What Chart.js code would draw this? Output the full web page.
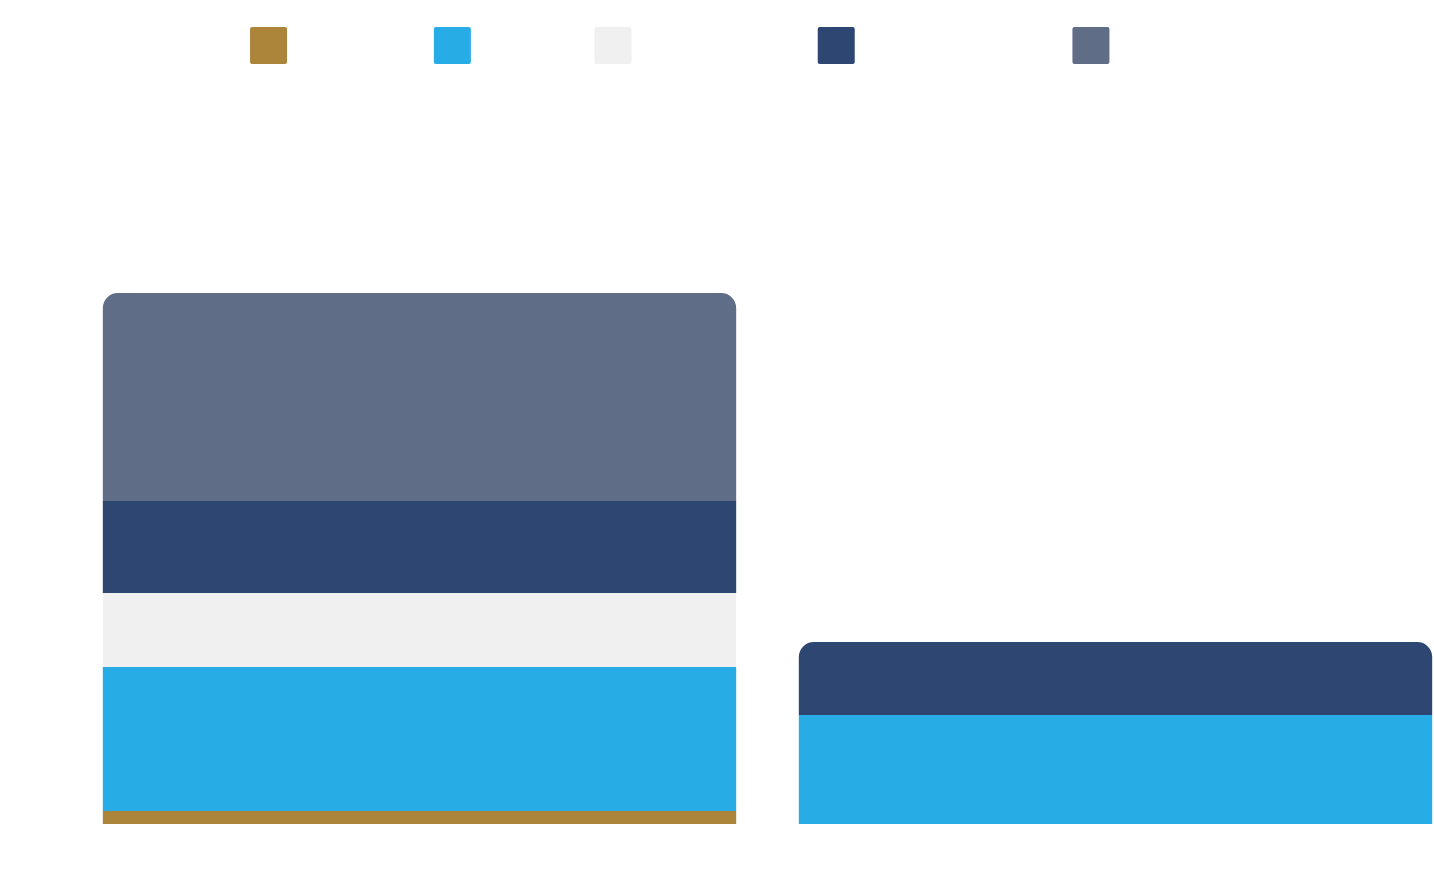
<!DOCTYPE html>
<html lang="en">
<head>
  <meta charset="UTF-8" />
  <title>Revenue mix</title>
  <script src="https://cdn.jsdelivr.net/npm/chart.js"></script>
  <style>
    body {
      margin: 0;
      background: #ffffff;
      overflow: hidden;
    }
    #chart-container {
      width: 1535px;
      height: 873px;
    }
  </style>
</head>
<body>
  <div id="chart-container">
    <canvas id="mixChart"></canvas>
  </div>

  <script>
    const categories = ['2022', '2023'];
    const privateGifts = [0.13, 0];
    const publicFunding = [1.44, 1.09];
    const inKind = [0.74, 0];
    const endowment = [0.92, 0.73];
    const otherRevenue = [2.08, 0];

    const ctx = document.getElementById('mixChart').getContext('2d');
    const chart = new Chart(ctx, {
      type: 'bar',
      data: {
        labels: categories,
        datasets: [
          { label: 'Private Contributions', data: privateGifts, backgroundColor: '#ac843a' },
          { label: 'Public Resources', data: publicFunding, backgroundColor: '#27ace5' },
          { label: 'In-Kind Goods and Services', data: inKind, backgroundColor: '#f0f0f0' },
          { label: 'Endowment and Interest Income', data: endowment, backgroundColor: '#2d4772' },
          { label: 'Other Sources of Financing', data: otherRevenue, backgroundColor: '#5f6d87' }
        ]
      },
      options: {
        responsive: true,
        maintainAspectRatio: false,
        animation: false,
        layout: {
          padding: { top: 18, bottom: 49, left: 71.5, right: 71.5 }
        },
        datasets: {
          bar: {
            borderWidth: 0,
            borderRadius: 15,
            borderSkipped: 'start',
            categoryPercentage: 1,
            barPercentage: 0.91
          }
        },
        scales: {
          x: { stacked: true, display: false },
          y: { stacked: true, display: false, min: 0, max: 7.5 }
        },
        plugins: {
          legend: {
            display: true,
            labels: {
              boxWidth: 37,
              boxHeight: 37,
              padding: 9,
              useBorderRadius: true,
              borderRadius: 2,
              color: '#ffffff',
              font: { family: 'Roboto', size: 14 }
            }
          },
          tooltip: { enabled: false }
        }
      }
    });
  </script>
</body>
</html>
